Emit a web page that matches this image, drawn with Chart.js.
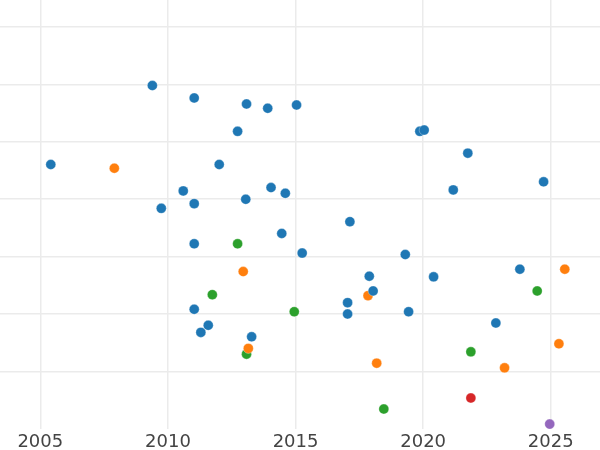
<!DOCTYPE html>
<html>
<head>
<meta charset="utf-8">
<script src="https://cdn.jsdelivr.net/npm/chart.js@4/dist/chart.umd.min.js"></script>
<style>
  html, body { margin: 0; padding: 0; background: #fff; }
  #wrap { width: 600px; height: 450px; }
</style>
</head>
<body>
<div id="wrap"><canvas id="myChart"></canvas></div>
<script>
var xTicks = [2005, 2010, 2015, 2020, 2025];
var yTicks = [1, 2, 3, 4, 5, 6, 7];

var groupNames = ["A", "B", "C", "D", "E"];
var groupColors = ["#1f77b4", "#ff7f0e", "#2ca02c", "#d62728", "#9467bd"];

var blueX = [2005.41, 2009.39, 2011.03, 2013.08, 2013.91, 2015.04, 2012.73, 2012.01, 2010.60, 2009.74,
             2011.03, 2013.05, 2014.04, 2014.60, 2019.87, 2020.04, 2021.75, 2021.18, 2024.72, 2017.13,
             2014.46, 2011.03, 2015.26, 2019.30, 2017.89, 2020.41, 2018.04, 2023.79, 2017.04, 2017.04,
             2019.43, 2011.03, 2011.58, 2011.29, 2013.28, 2022.85];
var blueY = [4.605, 5.980, 5.764, 5.659, 5.584, 5.641, 5.182, 4.605, 4.145, 3.841,
             3.923, 3.999, 4.203, 4.103, 5.182, 5.204, 4.803, 4.163, 4.303, 3.609,
             3.404, 3.224, 3.062, 3.037, 2.660, 2.648, 2.403, 2.782, 2.199, 2.001,
             2.041, 2.083, 1.804, 1.681, 1.604, 1.844];

var orangeX = [2007.90, 2012.95, 2013.15, 2017.84, 2018.18, 2023.19, 2025.55, 2025.32];
var orangeY = [4.540, 2.740, 1.402, 2.321, 1.145, 1.063, 2.782, 1.482];

var greenX = [2012.73, 2011.74, 2014.95, 2013.08, 2021.87, 2018.46, 2024.47];
var greenY = [3.224, 2.338, 2.041, 1.302, 1.342, 0.346, 2.403];

var redX = [2021.87];
var redY = [0.538];

var purpleX = [2024.96];
var purpleY = [0.084];

function toPoints(xs, ys) {
  return xs.map(function (x, i) { return { x: x, y: ys[i] }; });
}

var series = [
  toPoints(blueX, blueY),
  toPoints(orangeX, orangeY),
  toPoints(greenX, greenY),
  toPoints(redX, redY),
  toPoints(purpleX, purpleY)
];

var datasets = series.map(function (pts, i) {
  return {
    label: groupNames[i],
    data: pts,
    backgroundColor: groupColors[i],
    borderColor: "rgba(255,255,255,0.6)",
    borderWidth: 0.5,
    pointRadius: 5,
    pointHoverRadius: 5
  };
});

new Chart("myChart", {
  type: "scatter",
  data: { datasets: datasets },
  options: {
    responsive: true,
    maintainAspectRatio: false,
    animation: false,
    layout: { padding: { top: 0, left: 0, right: 0, bottom: -6.5 }, autoPadding: false },
    plugins: {
      legend: { display: false },
      tooltip: { enabled: false }
    },
    scales: {
      x: {
        type: "linear",
        min: 2003.42,
        max: 2026.93,
        afterBuildTicks: function (axis) {
          axis.ticks = xTicks.map(function (v) { return { value: v }; });
        },
        grid: { color: "#ebebeb", lineWidth: 1.5, drawTicks: false },
        border: { display: false },
        ticks: {
          padding: 3,
          color: "#444444",
          font: { family: "DejaVu Sans", size: 18 },
          callback: function (v) { return String(v); }
        }
      },
      y: {
        type: "linear",
        min: 0,
        max: 7.47,
        afterBuildTicks: function (axis) {
          axis.ticks = yTicks.map(function (v) { return { value: v }; });
        },
        grid: { color: "#ebebeb", lineWidth: 1.5, drawTicks: false },
        border: { display: false },
        ticks: { display: false }
      }
    }
  }
});
</script>
</body>
</html>
